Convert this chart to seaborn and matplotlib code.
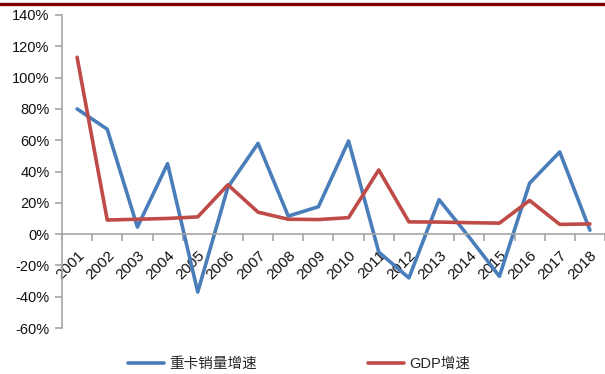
import matplotlib
matplotlib.use("Agg")
import matplotlib.pyplot as plt
import matplotlib.ticker as mticker
import seaborn as sns
import pandas as pd

years = ["2001", "2002", "2003", "2004", "2005", "2006", "2007", "2008", "2009",
         "2010", "2011", "2012", "2013", "2014", "2015", "2016", "2017", "2018"]
truck_growth = [80, 67, 4.5, 45, -37, 30, 58, 11.5, 17.5,
                59.5, -11.5, -28, 22, -2, -27, 32.5, 52.5, 2.5]
gdp_growth = [113, 9, 9.5, 10, 11, 31.5, 14, 9.5, 9.3,
              10.5, 41, 7.8, 7.7, 7.3, 7, 21.5, 6.2, 6.5]
series_names = ["重卡销量增速", "GDP增速"]
y_ticks = [-60, -40, -20, 0, 20, 40, 60, 80, 100, 120, 140]

pos = list(range(len(years)))
df = pd.concat([
    pd.DataFrame({"pos": pos, "value": truck_growth, "series": series_names[0]}),
    pd.DataFrame({"pos": pos, "value": gdp_growth, "series": series_names[1]}),
])

sns.set_theme(style="white")
plt.rcParams["font.family"] = ["Liberation Sans", "Noto Sans CJK SC", "DejaVu Sans"]

fig = plt.figure(figsize=(6.05, 3.74), dpi=100)
ax = fig.add_axes([62 / 605, 1 - 328 / 374, 1 - 62 / 605, (328 - 15) / 374])

palette = {series_names[0]: "#4A7EBB", series_names[1]: "#BE4B48"}
sns.lineplot(data=df, x="pos", y="value", hue="series", palette=palette,
             linewidth=2.6, ax=ax, legend=False, sort=False)

axis_gray = "#A6A6A6"
ax.set_xlim(-0.5, len(years) - 0.5)
ax.set_ylim(-60, 140)
ax.set_yticks(y_ticks)
ax.yaxis.set_major_formatter(mticker.FuncFormatter(lambda v, _: f"{v:.0f}%"))
ax.set_xlabel("")
ax.set_ylabel("")

for s in ["top", "right"]:
    ax.spines[s].set_visible(False)
ax.spines["bottom"].set_position(("data", 0))
for s in ["left", "bottom"]:
    ax.spines[s].set_color(axis_gray)
    ax.spines[s].set_linewidth(1.2)

# category boundaries get tick marks, category centres get the labels
ax.set_xticks([p - 0.5 for p in range(len(years) + 1)])
ax.set_xticklabels([])
ax.set_xticks(pos, minor=True)
ax.set_xticklabels(years, minor=True, rotation=45, ha="right", va="top",
                   rotation_mode="anchor", fontsize=11, color="#111111")
ax.tick_params(axis="x", which="major", direction="out", length=5,
               color=axis_gray, width=1.2, bottom=True)
ax.tick_params(axis="x", which="minor", length=0, pad=10, bottom=True)
ax.tick_params(axis="y", direction="out", length=5, color=axis_gray,
               width=1.2, labelsize=10.5, labelcolor="#111111", pad=4, left=True)

# dark red band along the top edge
fig.add_artist(plt.Line2D([0, 1], [1 - 3.5 / 374, 1 - 3.5 / 374],
                          transform=fig.transFigure, color="#800000", linewidth=2.4))

handles = [plt.Line2D([], [], color=palette[n], linewidth=2.6) for n in series_names]
fig.legend(handles, series_names, loc="center", bbox_to_anchor=(299 / 605, 1 - 364 / 374),
           ncol=2, frameon=False, handlelength=2.5, handletextpad=0.35,
           columnspacing=7.6, prop={"family": ["Liberation Sans", "Noto Sans CJK SC"], "size": 10.5})

fig.savefig("out.png", dpi=100)
